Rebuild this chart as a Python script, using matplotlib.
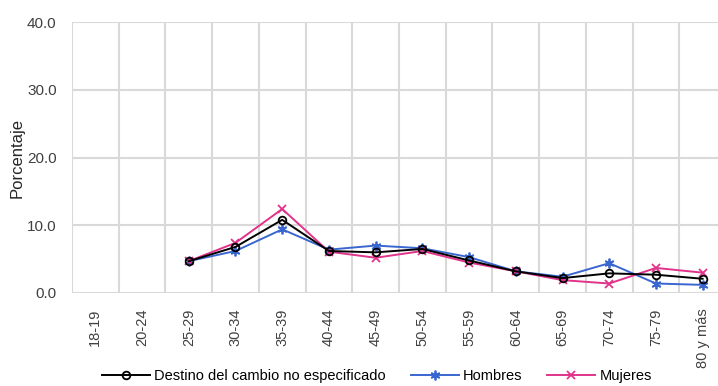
import matplotlib
matplotlib.use("Agg")
import matplotlib.pyplot as plt

# ------------------- Data -------------------
categories = ["18-19", "20-24", "25-29", "30-34", "35-39", "40-44", "45-49",
              "50-54", "55-59", "60-64", "65-69", "70-74", "75-79", "80 y más"]
nan = float("nan")
total = [nan, nan, 4.7, 6.8, 10.8, 6.2, 6.0, 6.5, 4.8, 3.2, 2.2, 2.9, 2.7, 2.1]
hombres = [nan, nan, 4.7, 6.2, 9.4, 6.4, 7.0, 6.6, 5.3, 3.2, 2.4, 4.4, 1.4, 1.2]
mujeres = [nan, nan, 4.7, 7.4, 12.4, 6.1, 5.2, 6.2, 4.5, 3.2, 1.9, 1.4, 3.7, 3.0]
y_ticks = [0, 10, 20, 30, 40]

# ------------------- Style -------------------
plt.rcParams["font.family"] = ["Liberation Sans", "DejaVu Sans"]

grid_col = "#d9d9d9"
c_total = "#000000"
c_h = "#3a66d0"
c_m = "#e0338a"

fig = plt.figure(figsize=(7.18, 3.86), dpi=100)
ax = fig.add_axes([72 / 718, 1 - 293 / 386, 654 / 718, 271 / 386])

x = list(range(len(categories)))
ax.plot(x, total, color=c_total, lw=1.4, marker="o", ms=5.5, mfc="none",
        mec=c_total, mew=1.3, label="Destino del cambio no especificado", zorder=4)
ax.plot(x, hombres, color=c_h, lw=1.4, marker=(6, 2, 0), ms=7, mec=c_h,
        mew=1.3, label="Hombres", zorder=3)
ax.plot(x, mujeres, color=c_m, lw=1.4, marker="x", ms=6, mec=c_m,
        mew=1.3, label="Mujeres", zorder=3)

ax.set_xlim(-0.5, len(categories) - 0.5)
ax.set_ylim(0, 40)
ax.set_yticks(y_ticks)
ax.set_yticklabels([f"{v:.1f}" for v in y_ticks], fontsize=11, color="#404040")
ax.set_xticks(x)
ax.set_xticklabels(categories, rotation=90, fontsize=10.5, color="#404040")

# vertical grid at category boundaries
ax.set_xticks([i - 0.5 for i in range(len(categories) + 1)], minor=True)
ax.grid(axis="x", which="minor", color=grid_col, lw=1.5)
ax.grid(axis="y", which="major", color=grid_col, lw=1.5)
ax.tick_params(axis="both", which="both", length=0)
ax.tick_params(axis="x", pad=11)
ax.tick_params(axis="y", pad=11)
for s in ax.spines.values():
    s.set_visible(False)
ax.set_axisbelow(True)

ax.set_ylabel("Porcentaje", fontsize=12, color="#262626", labelpad=2)

fig.legend(loc="center", bbox_to_anchor=(0.525, 1 - 376 / 386), ncol=3,
           frameon=False, fontsize=10.5, handlelength=3.3, columnspacing=1.7,
           handletextpad=0.3)

fig.savefig("out.png", dpi=100)
